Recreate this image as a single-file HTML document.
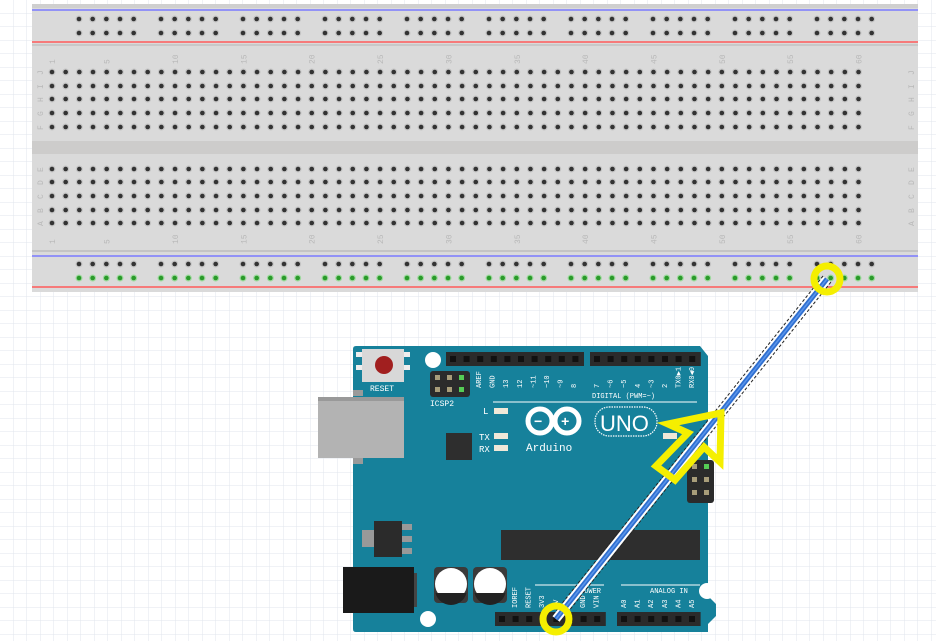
<!DOCTYPE html>
<html><head><meta charset="utf-8"><style>
html,body{margin:0;padding:0;width:936px;height:641px;overflow:hidden;background:#fff}
svg{display:block}
text{font-family:"Liberation Mono",monospace}
</style></head><body>
<svg id="s" width="936" height="641" xmlns="http://www.w3.org/2000/svg">
<defs>
<pattern id="g" width="13.5" height="13.5" patternUnits="userSpaceOnUse"><path d="M13.5 0V13.5H0" fill="none" stroke="#e0e5ec" stroke-width="1"/></pattern>
</defs>
<rect width="936" height="641" fill="#fff"/>
<rect width="936" height="641" fill="url(#g)"/>
<!-- breadboard -->
<rect x="32" y="4" width="886" height="288" fill="#dadada"/>
<rect x="32" y="4" width="886" height="4" fill="#cfcfcf"/>
<line x1="32" y1="10" x2="918" y2="10" stroke="#7b7bff" stroke-width="1.5"/>
<line x1="32" y1="42" x2="918" y2="42" stroke="#ff5a5a" stroke-width="1.5"/>
<rect x="32" y="44" width="886" height="2" fill="#c8c8c8"/>
<rect x="32" y="141" width="886" height="13" fill="#cdcccb"/>
<rect x="32" y="250" width="886" height="2" fill="#c4c4c4"/>
<line x1="32" y1="256" x2="918" y2="256" stroke="#7b7bff" stroke-width="1.5"/>
<line x1="32" y1="287" x2="918" y2="287" stroke="#ff5a5a" stroke-width="1.5"/>
<g id="dots"></g>
<g id="lbl" fill="#b8b8b8" font-size="8"></g>
<!-- arduino -->
<path d="M353 349 Q353 346 356 346 L700 346 L708 356 L708 596 L716 604 L716 616 L708 624 L708 632 L356 632 Q353 632 353 629 Z" fill="#16819b"/>
<rect x="362" y="349" width="42" height="33" fill="#d8d8d8"/>
<rect x="356" y="352" width="6" height="5" fill="#eee"/><rect x="356" y="365" width="6" height="5" fill="#eee"/>
<rect x="404" y="352" width="6" height="5" fill="#eee"/><rect x="404" y="365" width="6" height="5" fill="#eee"/>
<circle cx="384" cy="365" r="9" fill="#a11f1f"/>
<text x="370" y="391" font-size="8" fill="#fff">RESET</text>
<circle cx="433" cy="360" r="8" fill="#fff"/>
<circle cx="428" cy="619" r="8" fill="#fff"/>
<circle cx="707" cy="591" r="8" fill="#fff"/>
<g id="hdr"></g>
<rect x="430" y="371" width="40" height="26" rx="3" fill="#2b2b2b"/>
<text x="430" y="406" font-size="8" fill="#fff">ICSP2</text>
<line x1="493" y1="402" x2="697" y2="402" stroke="#fff" stroke-width="1"/>
<text x="592" y="398" font-size="7" fill="#fff">DIGITAL (PWM=~)</text>
<rect x="318" y="397" width="86" height="61" fill="#b3b3b3"/>
<rect x="318" y="397" width="86" height="4" fill="#999"/>
<rect x="353" y="390" width="10" height="6" fill="#9a9a9a"/><rect x="353" y="458" width="10" height="6" fill="#9a9a9a"/>
<rect x="446" y="433" width="26" height="27" fill="#2e2e2e"/>
<text x="483" y="414" font-size="9" fill="#fff">L</text>
<text x="479" y="440" font-size="9" fill="#fff">TX</text>
<text x="479" y="452" font-size="9" fill="#fff">RX</text>
<rect x="494" y="408" width="14" height="6" fill="#f0e8d8"/>
<rect x="494" y="433" width="14" height="6" fill="#f0e8d8"/>
<rect x="494" y="445" width="14" height="6" fill="#f0e8d8"/>
<rect x="663" y="433" width="14" height="6" fill="#f0e8d8"/>
<g fill="none" stroke="#fff" stroke-width="5">
<circle cx="540" cy="421" r="12"/><circle cx="567" cy="421" r="12"/>
</g>
<text x="534" y="426" font-size="14" font-weight="bold" fill="#fff">−</text>
<text x="561" y="426" font-size="14" font-weight="bold" fill="#fff">+</text>
<text x="526" y="451" font-size="11" fill="#fff">Arduino</text>
<rect x="595" y="407" width="62" height="29" rx="14" fill="none" stroke="#fff" stroke-width="1.2" stroke-dasharray="1.5 1"/>
<text x="600" y="431" font-size="22" fill="#fff" style="font-family:'Liberation Sans',sans-serif">UNO</text>
<rect x="374" y="521" width="28" height="36" fill="#2b2b2b"/>
<rect x="362" y="530" width="12" height="17" fill="#999"/>
<rect x="402" y="524" width="10" height="6" fill="#999"/><rect x="402" y="536" width="10" height="6" fill="#999"/><rect x="402" y="548" width="10" height="6" fill="#999"/>
<rect x="343" y="567" width="71" height="46" fill="#1a1a1a"/>
<rect x="414" y="573" width="3" height="34" fill="#444"/>
<rect x="434" y="567" width="34" height="36" rx="4" fill="#3a3a3a"/>
<rect x="473" y="567" width="34" height="36" rx="4" fill="#3a3a3a"/>
<circle cx="451" cy="584" r="16" fill="#fff"/><circle cx="490" cy="584" r="16" fill="#fff"/>
<path d="M435.5 593 A16 16 0 0 0 466.5 593 Z" fill="#222"/>
<path d="M474.5 593 A16 16 0 0 0 505.5 593 Z" fill="#222"/>
<rect x="501" y="530" width="199" height="30" fill="#2e2e2e"/>
<rect x="687" y="460" width="27" height="43" rx="3" fill="#2b2b2b"/>
<g id="pins"></g>
<line x1="535" y1="585" x2="604" y2="585" stroke="#fff"/>
<line x1="621" y1="585" x2="700" y2="585" stroke="#fff"/>
<text x="650" y="593" font-size="7" fill="#fff">ANALOG IN</text>
<text x="580" y="593" font-size="7" fill="#fff">POWER</text>
<g id="lbl2" fill="#fff" font-size="7"></g>
<!-- wire -->
<line x1="827" y1="279" x2="556" y2="619" stroke="#222" stroke-width="11" stroke-dasharray="3 2"/>
<line x1="827" y1="279" x2="556" y2="619" stroke="#fff" stroke-width="9"/>
<line x1="827" y1="279" x2="556" y2="619" stroke="#2f6fd0" stroke-width="5"/>
<line x1="827" y1="279" x2="556" y2="619" stroke="#5b95ea" stroke-width="1.5"/>
<circle cx="827" cy="279" r="13" fill="none" stroke="#f5ef00" stroke-width="7"/>
<circle cx="556" cy="619" r="13" fill="none" stroke="#f5ef00" stroke-width="7"/>
<polygon points="721,413 720,462 704,447 675,480 656,466 688,433 668,424" fill="none" stroke="#f5ef00" stroke-width="7" stroke-linejoin="miter"/>
</svg>
<script>
var NS="http://www.w3.org/2000/svg",d=document.getElementById("dots"),l=document.getElementById("lbl"),h=document.getElementById("hdr"),l2=document.getElementById("lbl2"),pn=document.getElementById("pins");
function c(p,t,a){var e=document.createElementNS(NS,t);for(var k in a)e.setAttribute(k,a[k]);p.appendChild(e);return e;}
function dot(x,y,g){c(d,"circle",{cx:x,cy:y,r:3.5,fill:g?"#9ed99e":"#c4c4c4"});c(d,"circle",{cx:x,cy:y,r:2.3,fill:g?"#2a9a2a":"#333"});}
var P=13.67,X0=52;
[72,86,99,113,127,169,182,196,210,223].forEach(function(y){for(var i=0;i<60;i++)dot(X0+i*P,y);});
for(var k=0;k<10;k++)for(var j=0;j<5;j++){var x=79+k*82+j*P;dot(x,19);dot(x,33);dot(x,264);dot(x,278,true);}
[1,5,10,15,20,25,30,35,40,45,50,55,60].forEach(function(n){var x=X0+(n-1)*P;[60,240].forEach(function(y){var t=c(l,"text",{transform:"translate("+(x+3)+","+(y+4)+") rotate(-90)"});t.textContent=n;});});
var L1=["J","I","H","G","F"],Y1=[72,86,99,113,127],L2=["E","D","C","B","A"],Y2=[169,182,196,210,223];
function rl(a,ys){a.forEach(function(s,i){[40,911].forEach(function(x){var t=c(l,"text",{transform:"translate("+(x+3)+","+(ys[i]+3)+") rotate(-90)"});t.textContent=s;});});}
rl(L1,Y1);rl(L2,Y2);
function header(x0,n,y){c(h,"rect",{x:x0,y:y,width:n*13.6+2,height:14,fill:"#2b2b2b"});for(var i=0;i<n;i++)c(h,"rect",{x:x0+4+i*13.6,y:y+4,width:6,height:6,fill:"#111"});}
header(446,10,352);header(590,8,352);header(495,8,612);header(617,6,612);
[[437,377],[449,377],[461,377],[437,389],[449,389],[461,389]].forEach(function(p,i){c(pn,"rect",{x:p[0]-2,y:p[1]-2,width:5,height:5,fill:(i==2||i==5)?"#5c5":"#a89d7a"});});
[[694,466],[706,466],[694,479],[706,479],[694,492],[706,492]].forEach(function(p,i){c(pn,"rect",{x:p[0]-2,y:p[1]-2,width:5,height:5,fill:i==1?"#5c5":"#a89d7a"});});
var tl=["AREF","GND","13","12","~11","~10","~9","8"];tl.forEach(function(s,i){var x=478+i*13.6;var t=c(l2,"text",{transform:"translate("+(x+3)+",388) rotate(-90)"});t.textContent=s;});
var tr=["7","~6","~5","4","~3","2","TX0▶1","RX0◀0"];tr.forEach(function(s,i){var x=596+i*13.6;var t=c(l2,"text",{transform:"translate("+(x+3)+",388) rotate(-90)"});t.textContent=s;});
var bl=["IOREF","RESET","3V3","5V","GND","GND","VIN"];bl.forEach(function(s,i){var x=514+i*13.6;var t=c(l2,"text",{transform:"translate("+(x+3)+",608) rotate(-90)"});t.textContent=s;});
var br=["A0","A1","A2","A3","A4","A5"];br.forEach(function(s,i){var x=623+i*13.6;var t=c(l2,"text",{transform:"translate("+(x+3)+",608) rotate(-90)"});t.textContent=s;});
</script>
</body></html>
